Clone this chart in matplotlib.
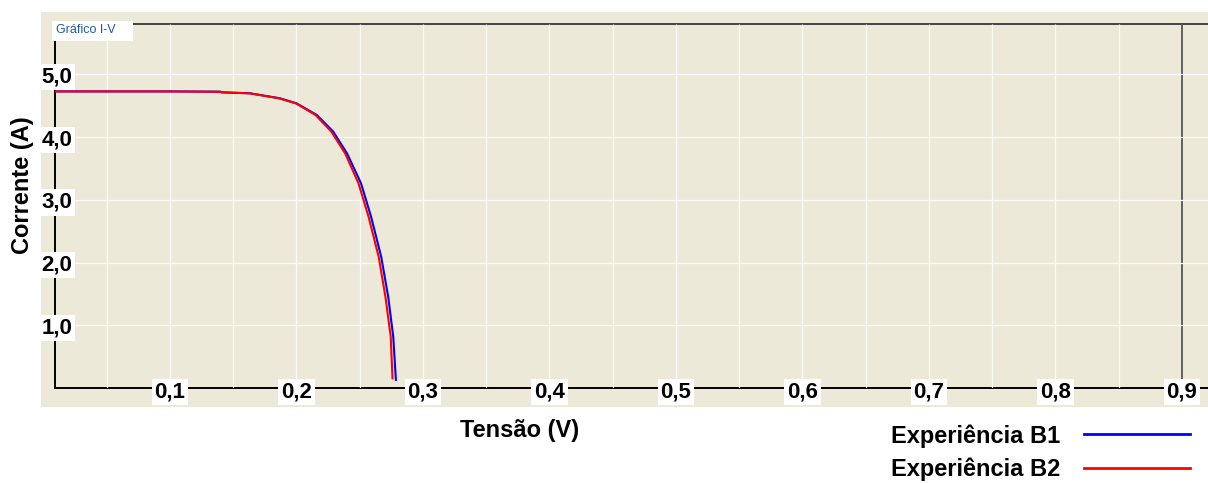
import matplotlib
matplotlib.use("Agg")
import matplotlib.pyplot as plt
from matplotlib.patches import Rectangle
from matplotlib.lines import Line2D

plt.rcParams['font.family'] = ['Liberation Sans', 'DejaVu Sans']

# dados
v_b1 = [0.009, 0.05, 0.10, 0.140, 0.141, 0.163, 0.187, 0.200, 0.216, 0.229,
        0.240, 0.251, 0.259, 0.267, 0.2725, 0.2765, 0.2786]
i_b1 = [4.73, 4.73, 4.73, 4.725, 4.715, 4.70, 4.62, 4.54, 4.355, 4.09,
        3.74, 3.265, 2.73, 2.09, 1.456, 0.818, 0.13]
v_b2 = [0.009, 0.05, 0.10, 0.140, 0.141, 0.163, 0.186, 0.1995, 0.215, 0.2275,
        0.2385, 0.249, 0.257, 0.2650, 0.2703, 0.2745, 0.2759]
i_b2 = [4.73, 4.73, 4.73, 4.725, 4.715, 4.70, 4.62, 4.54, 4.355, 4.09,
        3.74, 3.265, 2.73, 2.09, 1.456, 0.818, 0.155]

x_ticks = [0.1, 0.2, 0.3, 0.4, 0.5, 0.6, 0.7, 0.8, 0.9]
x_labels = ['0,1', '0,2', '0,3', '0,4', '0,5', '0,6', '0,7', '0,8', '0,9']
y_ticks = [1, 2, 3, 4, 5]
y_labels = ['1,0', '2,0', '3,0', '4,0', '5,0']
series_names = ['Experiência B1', 'Experiência B2']

W, H = 1208, 483
bege = '#ECE9D8'

fig = plt.figure(figsize=(W / 100, H / 100), dpi=100)
fig.patch.set_facecolor('white')

# painel bege atrás do gráfico
fig.patches.append(Rectangle((41 / W, 1 - 407 / H), (W - 41) / W, (407 - 12) / H,
                             transform=fig.transFigure, facecolor=bege,
                             edgecolor='none', zorder=-5))

ax = fig.add_axes([55 / W, 1 - 388 / H, (W - 55) / W, (388 - 24) / H], zorder=2)
ax.set_facecolor(bege)
ax.set_xlim(0.0091, 0.9206)
ax.set_ylim(0, 5.805)

ax.plot(v_b1, i_b1, color='#0000FF', lw=1.5, zorder=3)
ax.plot(v_b2, i_b2, color='#FF0000', lw=1.5, zorder=4)

# grelha
ax.set_xticks(x_ticks, x_labels)
ax.set_xticks([0.05 + 0.1 * k for k in range(9)], minor=True)
ax.set_yticks(y_ticks, y_labels)
ax.grid(True, which='both', axis='x', color='#FAFAFA', lw=0.9, solid_capstyle='butt')
ax.grid(True, which='major', axis='y', color='#FAFAFA', lw=0.9, solid_capstyle='butt')
ax.set_axisbelow('line')  # eixo (grelha + etiquetas) por cima das spines
ax.xaxis.get_major_ticks()[-1].gridline.set_visible(False)
ax.axvline(0.9, color='#555555', lw=1.3, zorder=1.4)

ax.spines['right'].set_visible(False)
ax.spines['top'].set_color('#444444')
ax.spines['top'].set_linewidth(1.4)
ax.spines['left'].set_linewidth(1.4)
ax.spines['bottom'].set_linewidth(1.4)
for s in ax.spines.values():
    s.set_zorder(1.3)

ax.tick_params(axis='both', which='both', length=0)
ax.tick_params(axis='x', pad=2.9, labelsize=16)
ax.tick_params(axis='y', pad=-1.4, labelsize=16)
box = dict(boxstyle='square,pad=0.12', fc='white', ec='none')
for t in ax.get_xticklabels():
    t.set_fontweight('bold')
    t.set_va('center')
    t.set_bbox(box)
for t in ax.get_yticklabels():
    t.set_fontweight('bold')
    t.set_ha('center')
    t.set_bbox(box)

ax.set_xlabel('Tensão (V)', fontsize=17, fontweight='bold', va='center')
ax.xaxis.set_label_coords(0.4033, -0.118)
ax.set_ylabel('Corrente (A)', fontsize=17, fontweight='bold', va='center')
ax.yaxis.set_label_coords(-0.0286, 0.558)

# etiqueta do gráfico
fig.patches.append(Rectangle((52 / W, 1 - 41 / H), 81 / W, 20 / H,
                             transform=fig.transFigure, facecolor='white',
                             edgecolor='none', zorder=5))
fig.text(56 / W, 1 - 30 / H, 'Gráfico I-V', fontsize=9, color='#1F5AA6',
         va='center', ha='left', zorder=6)

handles = [Line2D([], [], color='#0000FF', lw=2),
           Line2D([], [], color='#FF0000', lw=2)]
leg = fig.legend(handles, series_names, loc='upper right',
                 bbox_to_anchor=(1190 / W, 1 - 424 / H), frameon=False,
                 markerfirst=False, borderpad=0, borderaxespad=0,
                 handlelength=4.5, handletextpad=1.0, labelspacing=0.42,
                 prop={'size': 17, 'weight': 'bold'})

fig.savefig('out.png', dpi=100, facecolor='white')
